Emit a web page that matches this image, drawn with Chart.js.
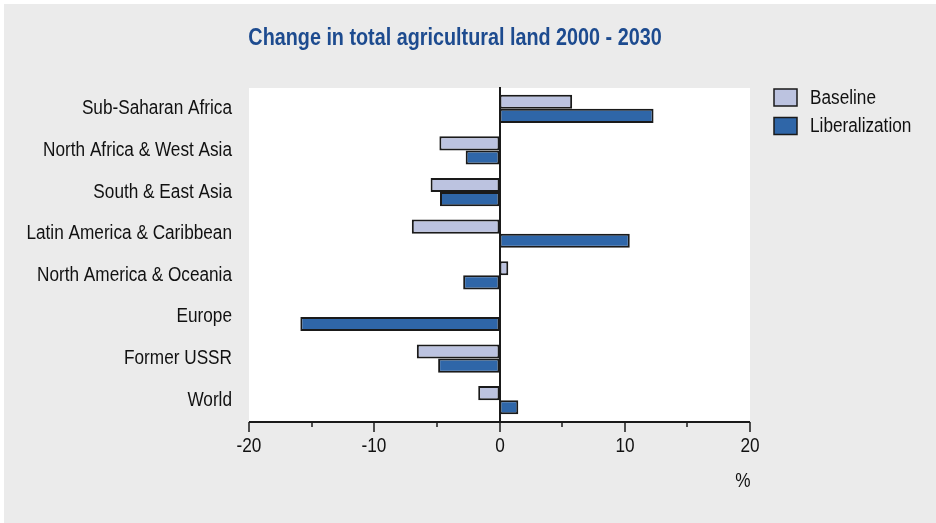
<!DOCTYPE html>
<html>
<head>
<meta charset="utf-8">
<script src="https://cdn.jsdelivr.net/npm/chart.js@4.4.1/dist/chart.umd.min.js"></script>
<style>
  html, body { margin: 0; padding: 0; background: #ffffff; }
  #wrap { width: 936px; height: 523px; }
</style>
</head>
<body>
<div id="wrap"><canvas id="landChart" width="936" height="523"></canvas></div>
<script>
// Données du graphique
const regions = [
  'Sub-Saharan Africa',
  'North Africa & West Asia',
  'South & East Asia',
  'Latin America & Caribbean',
  'North America & Oceania',
  'Europe',
  'Former USSR',
  'World'
];
const baseline = [5.8, -4.8, -5.5, -7.0, 0.7, 0, -6.6, -1.7];
const liberalization = [12.3, -2.7, -4.75, 10.4, -2.9, -15.9, -4.9, 1.5];
const xMin = -20;
const xMax = 20;
const xStep = 5;
const xLabelStep = 10;
const titleText = 'Change in total agricultural land 2000 - 2030';
const unitText = '%';

const FONT = "'Liberation Sans', Arial, sans-serif";
const NARROW = 0.86; // police condensée simulée

// texte compressé horizontalement
function narrowText(ctx, text, x, y, align, font, color) {
  ctx.save();
  ctx.font = font;
  ctx.fillStyle = color;
  ctx.textBaseline = 'middle';
  ctx.textAlign = align;
  ctx.translate(x, y);
  ctx.scale(NARROW, 1);
  ctx.fillText(text, 0, 0);
  ctx.restore();
}

const decor = {
  id: 'decor',
  beforeDraw(chart) {
    const { ctx, chartArea } = chart;
    ctx.save();
    ctx.fillStyle = '#ffffff';
    ctx.fillRect(0, 0, chart.width, chart.height);
    ctx.fillStyle = '#ebebeb';
    ctx.fillRect(4, 4, chart.width - 4, chart.height - 4);
    ctx.fillStyle = '#ffffff';
    ctx.fillRect(chartArea.left, chartArea.top, chartArea.right - chartArea.left, chartArea.bottom - chartArea.top);
    ctx.restore();
  },
  afterDatasetsDraw(chart) {
    const { ctx, chartArea } = chart;
    const x = chart.scales.x;
    const y = chart.scales.y;
    ctx.save();
    ctx.strokeStyle = '#1a1a1a';
    ctx.lineWidth = 2;
    // ligne du zéro
    const x0 = Math.round(x.getPixelForValue(0));
    ctx.beginPath();
    ctx.moveTo(x0, chartArea.top - 1);
    ctx.lineTo(x0, chartArea.bottom);
    ctx.stroke();
    // axe horizontal + graduations
    const yb = chartArea.bottom + 1;
    ctx.beginPath();
    ctx.moveTo(chartArea.left, yb);
    ctx.lineTo(chartArea.right, yb);
    ctx.stroke();
    ctx.lineWidth = 1.5;
    for (let v = xMin; v <= xMax; v += xStep) {
      const px = Math.round(x.getPixelForValue(v));
      const major = v % xLabelStep === 0;
      ctx.beginPath();
      ctx.moveTo(px, yb);
      ctx.lineTo(px, yb + (major ? 10 : 5));
      ctx.stroke();
      if (major) narrowText(ctx, String(v), px, 446, 'center', '20px ' + FONT, '#111111');
    }
    ctx.restore();
    // étiquettes des régions
    regions.forEach((r, i) => {
      narrowText(ctx, r, chartArea.left - 17, y.getPixelForValue(i), 'right', '20px ' + FONT, '#111111');
    });
  },
  afterDraw(chart) {
    const { ctx } = chart;
    narrowText(ctx, titleText, 455, 39, 'center', 'bold 23px ' + FONT, '#1d4b8f');
    chart.data.datasets.forEach((ds, i) => {
      const y = 89 + i * 28.5;
      ctx.save();
      ctx.fillStyle = ds.backgroundColor;
      ctx.fillRect(774, y, 23, 17);
      ctx.strokeStyle = '#1a1a1a';
      ctx.lineWidth = 1.5;
      ctx.strokeRect(774, y, 23, 17);
      ctx.restore();
      narrowText(ctx, ds.label, 810, y + 9, 'left', '20px ' + FONT, '#111111');
    });
    narrowText(ctx, unitText, 743, 481, 'center', '20px ' + FONT, '#111111');
  }
};

new Chart(document.getElementById('landChart').getContext('2d'), {
  type: 'bar',
  data: {
    labels: regions,
    datasets: [
      {
        label: 'Baseline',
        data: baseline,
        backgroundColor: '#bcc3e0',
        borderColor: '#1a1a1a',
        borderWidth: 2,
        borderSkipped: false,
        barPercentage: 1,
        categoryPercentage: 0.68,
      },
      {
        label: 'Liberalization',
        data: liberalization,
        backgroundColor: '#2f66a8',
        borderColor: '#1a1a1a',
        borderWidth: 2,
        borderSkipped: false,
        barPercentage: 1,
        categoryPercentage: 0.68,
      },
    ],
  },
  options: {
    indexAxis: 'y',
    responsive: false,
    animation: false,
    devicePixelRatio: 1,
    layout: { padding: { top: 88, right: 186, bottom: 0, left: 0 } },
    plugins: {
      legend: { display: false },
      title: { display: false },
      tooltip: { enabled: false },
    },
    scales: {
      x: {
        min: xMin,
        max: xMax,
        border: { display: false },
        grid: { display: false },
        ticks: { display: false, stepSize: xStep },
        afterFit: (s) => { s.height = 102; },
      },
      y: {
        border: { display: false },
        grid: { display: false },
        ticks: { display: false },
        afterFit: (s) => { s.width = 249; },
      },
    },
  },
  plugins: [decor],
});
</script>
</body>
</html>
